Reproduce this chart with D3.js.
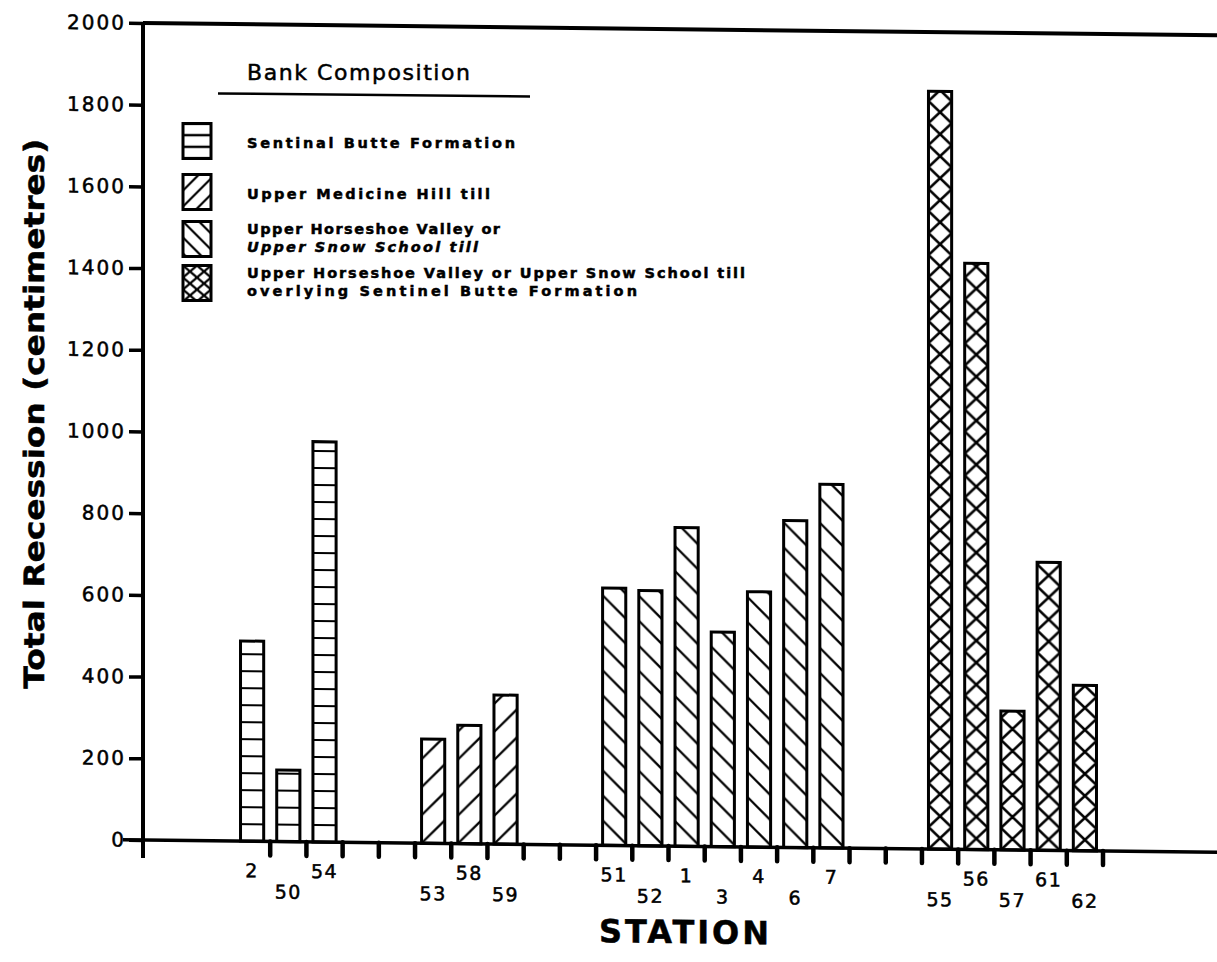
<!DOCTYPE html>
<html><head><meta charset="utf-8">
<script src="https://cdn.jsdelivr.net/npm/d3@7"></script>
<style>
body{margin:0;background:#fff}
svg{display:block}
text{font-family:"DejaVu Sans",sans-serif;fill:#000;stroke:#000;stroke-width:0.5px}
</style>
</head><body>
<svg id="chart" width="1217" height="962"></svg>
<script>
// ---- data ----
const compositions = [
  "Sentinal Butte Formation",
  "Upper Medicine Hill till",
  "Upper Horseshoe Valley or Upper Snow School till",
  "Upper Horseshoe Valley or Upper Snow School till overlying Sentinel Butte Formation"
];
const stations = ["2","50","54","53","58","59","51","52","1","3","4","6","7","55","56","57","61","62"];
const recession = [490,175,980,255,290,365,630,625,780,525,625,800,890,1855,1435,340,705,405];
const compositionIndex = [0,0,0,1,1,1,2,2,2,2,2,2,2,3,3,3,3,3];
const yTickValues = [0,200,400,600,800,1000,1200,1400,1600,1800,2000];
const legendTitle = "Bank Composition";
const legendLines = [
  ["Sentinal Butte Formation"],
  ["Upper Medicine Hill till"],
  ["Upper Horseshoe Valley or", "Upper Snow School till"],
  ["Upper Horseshoe Valley or Upper Snow School till", "overlying Sentinel Butte Formation"]
];
const legendItalic = [[false],[false],[false,true],[false,false]];
const legendWidths = [[268],[243],[253,231],[498,390]];
const xTitle = "STATION";
const yTitle = "Total Recession (centimetres)";

// ---- setup ----
const W = 1217, H = 962;
const svg = d3.select("#chart");
svg.append("rect").attr("width", W).attr("height", H).attr("fill", "#fff");
const defs = svg.append("defs");
const axisX = 143;
const g = svg.append("g")
  .attr("transform", `translate(${axisX},0) skewY(0.66) translate(${-axisX},0)`);

const y = d3.scaleLinear().domain([0, 2000]).range([840, 23]);

// slots: stations by composition group with two empty slots between groups
const slots = [];
compositions.forEach((c, ci) => {
  stations.forEach((s, i) => { if (compositionIndex[i] === ci) slots.push(s); });
  if (ci < compositions.length - 1) { slots.push("gap" + ci + "a"); slots.push("gap" + ci + "b"); }
});
const x = d3.scaleBand().domain(slots).range([234, 1103]).paddingInner(0.36).paddingOuter(0.18);
const bw = x.bandwidth();
const step = x.step();

const patternTypes = ["h", "f", "b", "x"];
const barPeriods = [17, 28, 25, 22];

function makePattern(id, type, px, py, tw, period, sw) {
  const p = defs.append("pattern").attr("id", id)
    .attr("patternUnits", "userSpaceOnUse")
    .attr("x", px).attr("y", py).attr("width", tw).attr("height", period);
  p.append("rect").attr("width", tw).attr("height", period).attr("fill", "#fff");
  let d = "";
  if (type === "h") d = `M0,0H${tw}M0,${period}H${tw}`;
  else if (type === "f") { for (let c = 0; c <= period + tw + period; c += period) d += `M0,${c}L${tw},${c - tw}`; }
  else if (type === "b") { for (let c = -(Math.ceil(tw / period) + 1) * period; c <= period; c += period) d += `M0,${c}L${tw},${c + tw}`; }
  else if (type === "x") d = `M0,0L${tw},${period}M${tw},0L0,${period}`;
  p.append("path").attr("d", d).attr("stroke", "#000").attr("stroke-width", sw).attr("fill", "none");
}

// ---- bars ----
stations.forEach((s, i) => {
  const t = patternTypes[compositionIndex[i]];
  makePattern("bar" + i, t, x(s), y(0), bw, barPeriods[compositionIndex[i]], t === "x" ? 2.6 : 2.2);
});
g.append("g").selectAll("rect").data(stations).join("rect")
  .attr("x", d => x(d))
  .attr("y", (d, i) => y(recession[i]))
  .attr("width", bw)
  .attr("height", (d, i) => y(0) - y(recession[i]))
  .attr("fill", (d, i) => `url(#bar${i})`)
  .attr("stroke", "#000").attr("stroke-width", 3);

// ---- axes ----
g.append("path").attr("d", `M${axisX},${y(2000)}H${W}`).attr("stroke", "#000").attr("stroke-width", 4).attr("fill", "none");
g.append("path").attr("d", `M123,${y(0)}H${W}`).attr("stroke", "#000").attr("stroke-width", 3.5).attr("fill", "none");
g.append("path").attr("d", `M${axisX},${y(2000) - 1}V${y(0) + 18}`).attr("stroke", "#000").attr("stroke-width", 4).attr("fill", "none");

const yAxis = g.append("g").attr("transform", `translate(${axisX},0)`)
  .call(d3.axisLeft(y).tickValues(yTickValues).tickSize(14).tickPadding(3).tickFormat(d3.format("d")));
yAxis.select(".domain").remove();
yAxis.selectAll(".tick line").attr("stroke", "#000").attr("stroke-width", 3.5);
yAxis.selectAll(".tick text").attr("font-size", 20).style("letter-spacing", "2px")
  .attr("font-family", null).attr("fill", "#000");

// x ticks at slot boundaries
g.append("g").selectAll("line").data(slots).join("line")
  .attr("x1", d => x(d) - step * x.paddingInner() / 2 + step)
  .attr("x2", d => x(d) - step * x.paddingInner() / 2 + step)
  .attr("y1", y(0)).attr("y2", y(0) + 14)
  .attr("stroke", "#000").attr("stroke-width", 4.5).attr("stroke-linecap", "round");

// x labels (alternating rows)
g.append("g").selectAll("text").data(stations).join("text")
  .attr("x", d => x(d) + bw / 2)
  .attr("y", (d, i) => i % 2 === 0 ? 876 : 897)
  .attr("text-anchor", "middle").attr("font-size", 19)
  .style("letter-spacing", "1.5px")
  .text(d => d);

// titles
g.append("text").attr("x", 684).attr("y", 937).attr("text-anchor", "middle")
  .attr("font-size", 32).attr("font-weight", "bold").attr("textLength", 170).attr("lengthAdjust", "spacing")
  .text(xTitle);
g.append("text").attr("transform", "translate(44,415) rotate(-90)").attr("text-anchor", "middle")
  .attr("font-size", 28).attr("font-weight", "bold").attr("textLength", 550).attr("lengthAdjust", "spacingAndGlyphs")
  .text(yTitle);

// ---- legend (kept unskewed so its text lines do not collide) ----
const lg = svg.append("g").attr("transform", "translate(0,1.5)");
lg.append("text").attr("x", 247).attr("y", 78).attr("font-size", 22)
  .attr("textLength", 223).attr("lengthAdjust", "spacing").text(legendTitle);
lg.append("path").attr("d", "M218,92L530,95").attr("stroke", "#000").attr("stroke-width", 2.5);

const swX = 183, swW = 28, swH = 35;
const swTops = [122, 173, 220, 264];
compositions.forEach((c, ci) => {
  const t = patternTypes[ci];
  const top = swTops[ci];
  const tw = t === "x" ? swW / 2 : swW;
  const per = t === "h" ? swH / 3 : (t === "x" ? 12 : 16);
  makePattern("leg" + ci, t, swX, top, tw, per, 2.2);
  lg.append("rect").attr("x", swX).attr("y", top).attr("width", swW).attr("height", swH)
    .attr("fill", `url(#leg${ci})`).attr("stroke", "#000").attr("stroke-width", 3);
  const lines = legendLines[ci];
  lines.forEach((ln, li) => {
    const base = lines.length === 1 ? top + 24 : top + 12 + li * 18;
    lg.append("text").attr("x", 247).attr("y", base).attr("font-size", 14.5)
      .attr("font-weight", "bold")
      .attr("font-style", legendItalic[ci][li] ? "italic" : "normal")
      .attr("textLength", legendWidths[ci][li]).attr("lengthAdjust", "spacing")
      .text(ln);
  });
});
</script>
</body></html>
